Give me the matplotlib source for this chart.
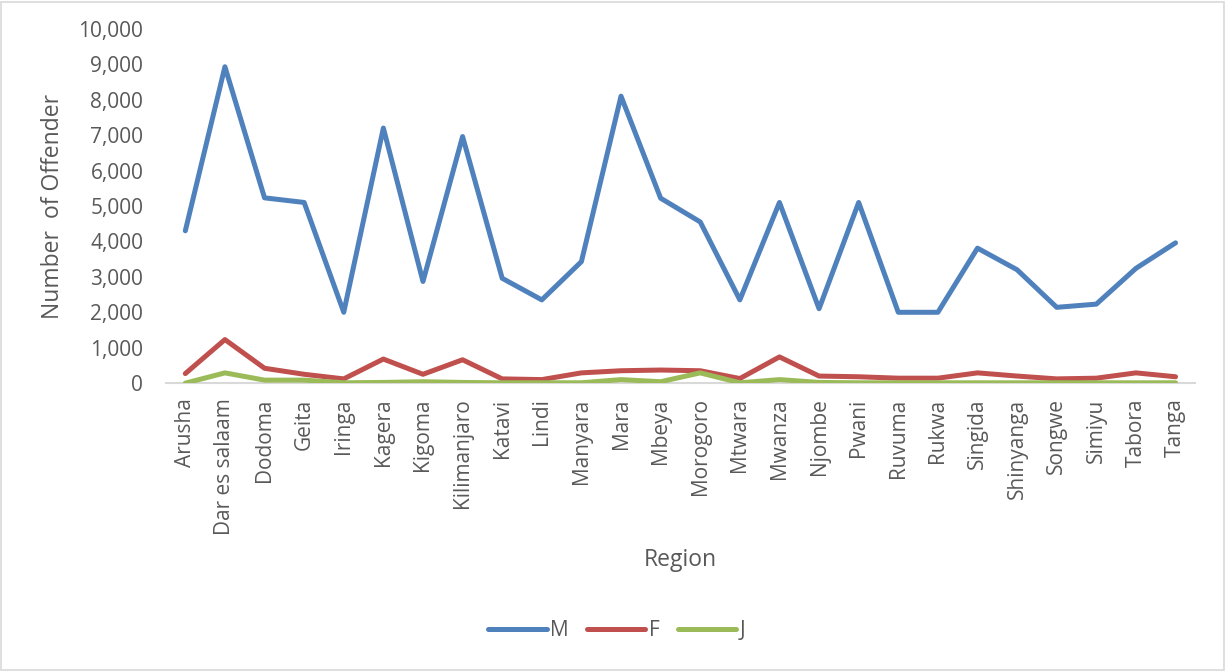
import matplotlib.pyplot as plt
from matplotlib.patches import Rectangle
from matplotlib.ticker import FuncFormatter

plt.rcParams['font.family'] = ['Open Sans', 'DejaVu Sans']

regions = ['Arusha', 'Dar es salaam', 'Dodoma', 'Geita', 'Iringa', 'Kagera',
           'Kigoma', 'Kilimanjaro', 'Katavi', 'Lindi', 'Manyara', 'Mara',
           'Mbeya', 'Morogoro', 'Mtwara', 'Mwanza', 'Njombe', 'Pwani',
           'Ruvuma', 'Rukwa', 'Singida', 'Shinyanga', 'Songwe', 'Simiyu',
           'Tabora', 'Tanga']

male = [4300, 8930, 5230, 5100, 2000, 7200, 2870, 6960, 2960, 2350, 3430,
        8100, 5220, 4550, 2350, 5100, 2100, 5100, 2000, 2000, 3810, 3200,
        2140, 2230, 3240, 3960]
female = [270, 1230, 420, 250, 120, 680, 250, 660, 120, 100, 290, 350, 370,
          350, 130, 740, 200, 180, 140, 140, 290, 200, 120, 140, 290, 180]
juvenile = [0, 290, 85, 85, 10, 20, 40, 20, 10, 10, 10, 100, 40, 290, 10,
            100, 20, 10, 10, 10, 10, 10, 10, 10, 10, 10]

text_col = '#595959'

fig = plt.figure(figsize=(12.26, 6.71), dpi=100)
ax = fig.add_axes([0.135, 0.429, 0.84, 0.528])

x = list(range(len(regions)))
ax.plot(x, male, color='#4F81BD', lw=3.6, label='M', solid_capstyle='round', solid_joinstyle='round')
ax.plot(x, female, color='#C0504D', lw=3.6, label='F', solid_capstyle='round', solid_joinstyle='round')
ax.plot(x, juvenile, color='#9BBB59', lw=3.6, label='J', solid_capstyle='round', solid_joinstyle='round')

ax.set_xlim(-0.5, len(regions) - 0.5)
ax.set_ylim(0, 10000)
ax.set_yticks(range(0, 10001, 1000))
ax.yaxis.set_major_formatter(FuncFormatter(lambda v, p: f'{int(v):,}'))
ax.set_xticks(x)
ax.set_xticklabels(regions, rotation=90)
ax.tick_params(length=0, labelsize=15, colors=text_col)
ax.tick_params(axis='x', pad=11)
ax.tick_params(axis='y', pad=16)

for s in ['top', 'right', 'left']:
    ax.spines[s].set_visible(False)
ax.spines['bottom'].set_color('#D9D9D9')
ax.spines['bottom'].set_linewidth(1.5)
ax.spines['bottom'].set_zorder(0)

ax.set_ylabel('Number  of Offender', fontsize=16.5, color=text_col, labelpad=10)
fig.text(0.555, 0.165, 'Region', fontsize=16.5, color=text_col, ha='center', va='center')

fig.legend(loc='center', bbox_to_anchor=(0.503, 0.06), ncol=3, frameon=False,
           fontsize=15, labelcolor=text_col, handlelength=2.8, handletextpad=0.15,
           columnspacing=0.9)

fig.patches.append(Rectangle((0.001, 0.002), 0.997, 0.995, transform=fig.transFigure,
                             fill=False, edgecolor='#D9D9D9', lw=1.2))

fig.savefig('out.png', dpi=100)
